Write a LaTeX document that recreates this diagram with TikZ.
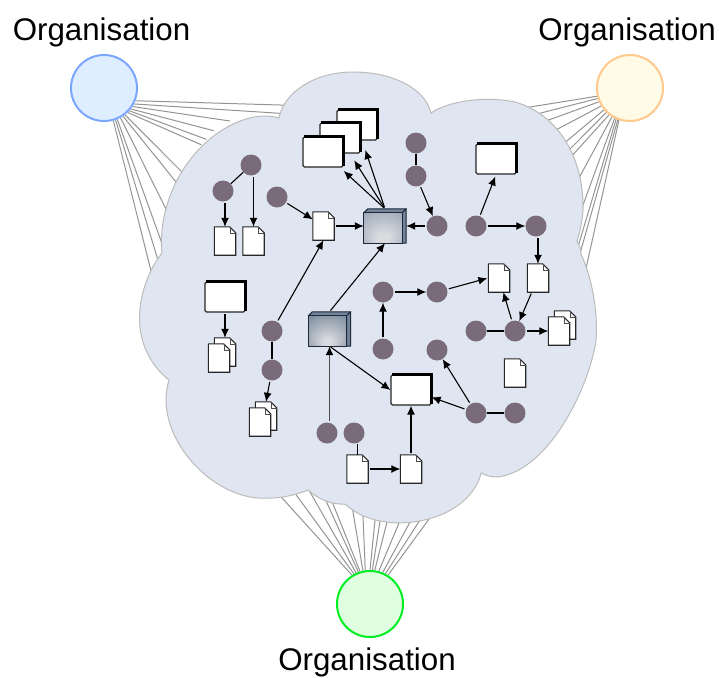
\documentclass[tikz,border=0pt]{standalone}
\usepackage{fontspec}
\setmainfont{Liberation Sans}
\usepackage{xcolor}
\usepackage{tikz}
\usetikzlibrary{arrows.meta,calc}

\definecolor{cloudfill}{HTML}{E0E6F1}
\definecolor{cloudline}{HTML}{BBBBBB}
\definecolor{memberfill}{HTML}{7A6B7B}
\definecolor{cubeside}{HTML}{71849B}
\definecolor{cubeedge}{HTML}{1E2836}
\definecolor{glowinner}{HTML}{D9DBDF}
\definecolor{glowouterA}{HTML}{8796AC}
\definecolor{glowouterB}{HTML}{5A7087}
\definecolor{orgAline}{HTML}{7AA6FF}
\definecolor{orgAfill}{HTML}{DFEEFF}
\definecolor{orgBline}{HTML}{FFC98C}
\definecolor{orgBfill}{HTML}{FFFBE6}
\definecolor{orgCline}{HTML}{00EE22}
\definecolor{orgCfill}{HTML}{E0FFE0}
\pgfdeclareradialshading{glowA}{\pgfpoint{0bp}{-20bp}}{color(0bp)=(glowinner); color(8bp)=(glowinner); color(50bp)=(glowouterA)}
\pgfdeclareradialshading{glowB}{\pgfpoint{0bp}{-20bp}}{color(0bp)=(glowinner); color(5bp)=(glowinner); color(50bp)=(glowouterB)}

\newcommand{\pagenode}[2]{
	\node [docbox] (#1) at (#2) {};
	\draw [pageline] (#1.north west) -- ($(#1.north east)+(-6,0)$) -- ($(#1.north east)+(0,6)$) -- (#1.south east) -- (#1.south west) -- cycle;
	\draw [foldline] ($(#1.north east)+(-6,0)$) -- ($(#1.north east)+(-6,6)$) -- ($(#1.north east)+(0,6)$);
}
\newcommand{\stacknode}[2]{
	\pagenode{#1b}{$(#2)+(6,-6)$}
	\pagenode{#1}{#2}
}
\newcommand{\winnode}[2]{
	\node [window] (#1) at (#2) {};
	\draw [windowedge] ($(#1.north west)+(1.5,0)$) -- (#1.north east) -- ($(#1.south east)+(0,-1.5)$);
}
\newcommand{\cubenode}[3]{
	\node [cubebox] (#1) at (#2) {};
	\draw [cubeface,fill=cubeside] ($(#1.north west)+(0,4)$) -- ($(#1.north west)+(4,0)$) -- (#1.north east) -- ($(#1.north east)+(-4,4)$) -- cycle;
	\draw [cubeface,fill=cubeside] (#1.north east) -- (#1.south east) -- ($(#1.south east)+(-4,0)$) -- ($(#1.north east)+(-4,4)$) -- cycle;
	\shade [shading=#3] ($(#1.north west)+(0,4)$) rectangle ($(#1.south east)+(-4,0)$);
	\draw [cubeface] ($(#1.north west)+(0,4)$) rectangle ($(#1.south east)+(-4,0)$);
}

\begin{document}
\begin{tikzpicture}[x=1pt,y=-1pt]
	\tikzstyle{org}=[circle,minimum size=66pt,inner sep=0pt,line width=2pt]
	\tikzstyle{org_text}=[font=\fontsize{31.3}{31.3}\selectfont,inner sep=0pt]
	\tikzstyle{link}=[draw=black!42,line width=1pt,shorten >=-7pt]
	\tikzstyle{member}=[circle,fill=memberfill,minimum size=21pt,inner sep=0pt]
	\tikzstyle{docbox}=[minimum width=21pt,minimum height=28pt,inner sep=0pt]
	\tikzstyle{pageline}=[draw=black!85,fill=white,line width=1.1pt]
	\tikzstyle{foldline}=[draw=black!70,line width=0.4pt]
	\tikzstyle{window}=[draw=black!85,fill=white,rounded corners=1.5pt,line width=1.2pt,minimum width=40pt,minimum height=30pt,inner sep=0pt]
	\tikzstyle{windowedge}=[draw=black,line width=2.6pt]
	\tikzstyle{cubebox}=[minimum width=42pt,minimum height=34pt,inner sep=0pt]
	\tikzstyle{cubeface}=[draw=cubeedge,line width=1pt,line join=round]
	\tikzstyle{flow}=[-{Latex[length=9pt,width=8pt,color=black]},draw=black,line width=1.1pt,shorten <=1.5pt]
	\tikzstyle{tie}=[draw=black,line width=1.1pt]

	\useasboundingbox (0,0) rectangle (719,677);

	\node (orgA) [org,draw=white] at (104,88) {};
	\node (orgB) [org,draw=white] at (630,88) {};
	\node (orgC) [org,draw=white] at (370,604) {};

	\foreach \ang/\x/\y in {-22/280/105,-28/275/113,-33/223/120,-38/207/129,-42/200/137,-46/195/142,-52/177/167,-56/172/177,-61/164/205,-67/160/238,-70/157/257,-74/150/267}
		\draw [link] (orgA.\ang) -- (\x,\y);
	\foreach \ang/\x/\y in {194/530/107,198/533/115,204/543/122,212/552/132,220/562/145,226/567/152,232/570/158,238/579/178,243/583/205,246/580/240,249/581/250,251/585/273}
		\draw [link] (orgB.\ang) -- (\x,\y);
	\foreach \ang/\x/\y in {122/283/499,118/297/496,114/310/492,110/327/503,107/333/504,102/353/512,98/363/517,90/375/520,86/380/521,82/387/522,75/399/523,68/410/522,63/420/520,58/429/519}
		\draw [link] (orgC.\ang) -- (\x,\y);

	\draw [draw=cloudline,fill=cloudfill,line width=1pt]
		(279,118) .. controls (284,92) and (315,72) .. (353,72)
		.. controls (392,72) and (425,88) .. (431,113)
		.. controls (445,103) and (480,95) .. (515,102)
		.. controls (560,115) and (584,160) .. (583,210)
		.. controls (582,222) and (580,232) .. (577,241)
		.. controls (580,246) and (581,250) .. (581,254)
		.. controls (593,280) and (598,315) .. (596,340)
		.. controls (590,385) and (550,470) .. (498,477)
		.. controls (490,477) and (485,475) .. (481,473)
		.. controls (478,490) and (455,522) .. (398,523)
		.. controls (375,522) and (358,516) .. (345,504)
		.. controls (332,505) and (318,499) .. (308,490)
		.. controls (290,497) and (275,499) .. (258,498)
		.. controls (215,495) and (168,450) .. (166,402)
		.. controls (166,394) and (167,387) .. (169,380)
		.. controls (150,365) and (139,342) .. (139.5,317)
		.. controls (140,292) and (150,268) .. (162,253)
		.. controls (158,215) and (175,165) .. (215,135)
		.. controls (235,120) and (260,112) .. (279,118) -- cycle;

	\node (orgA_fill) [org,draw=orgAline,fill=orgAfill] at (104,88) {};
	\node (orgB_fill) [org,draw=orgBline,fill=orgBfill] at (630,88) {};
	\node (orgC_fill) [org,draw=orgCline,fill=orgCfill] at (370,604) {};
	\node (orgA_text) [org_text] at (101.5,32) {Organisation};
	\node (orgB_text) [org_text] at (627,32) {Organisation};
	\node (orgC_text) [org_text] at (367,662) {Organisation};

	\node (a) [member] at (251,165) {};
	\node (b) [member] at (223,191) {};
	\node (c) [member] at (277,197) {};
	\node (d) [member] at (416,143) {};
	\node (e) [member] at (416,176) {};
	\node (f) [member] at (437,226) {};
	\node (g) [member] at (476,226) {};
	\node (h) [member] at (536,226) {};
	\node (i) [member] at (383,292) {};
	\node (j) [member] at (437,292) {};
	\node (k) [member] at (476,331) {};
	\node (l) [member] at (515,331) {};
	\node (m) [member] at (437,350) {};
	\node (n) [member] at (383,349) {};
	\node (o) [member] at (272,331) {};
	\node (p) [member] at (272,370) {};
	\node (q) [member] at (327,433) {};
	\node (r) [member] at (354,433) {};
	\node (s) [member] at (476,413) {};
	\node (t) [member] at (515,413) {};

	\pagenode{docA}{225,241}
	\pagenode{docB}{253.5,241}
	\pagenode{docC}{323.5,226}
	\pagenode{docD}{499,278}
	\pagenode{docE}{538,278}
	\pagenode{docF}{515,373}
	\pagenode{docG}{357.5,469}
	\pagenode{docH}{411,469}
	\stacknode{stackA}{219,358}
	\stacknode{stackB}{260,422}
	\stacknode{stackC}{559,331}

	\winnode{winA}{357,125}
	\winnode{winB}{340,138}
	\winnode{winC}{323,152}
	\winnode{winD}{496,159}
	\winnode{winE}{225,297}
	\winnode{winF}{411,390}

	\cubenode{cubeA}{385,226}{glowA}
	\cubenode{cubeB}{329.5,329}{glowB}

	\path [tie] (a) -- (b);
	\path [tie] (d) -- (e);
	\path [tie] (o) -- (p);
	\path [tie] (k) -- (l);
	\path [tie] (s) -- (t);
	\path [tie] (docG.north |- r.south) -- (docG.north);

	\path [flow] (docB.north |- a.south) -- (docB.north);
	\path [flow] (docA.north |- b.south) -- (docA.north);
	\path [flow] (c) -- (docC);
	\path [flow] (docC) -- (cubeA);
	\path [flow] (f) -- (cubeA);
	\path [flow] (e) -- (f);
	\path [flow,shorten >=5pt] (cubeA.north) -- (winC);
	\path [flow,shorten >=8pt] (cubeA.north) -- (winB);
	\path [flow,shorten >=10pt] (cubeA.north) -- (winA);
	\path [flow,shorten >=2pt] (g) -- (winD.south);
	\path [flow] (g) -- (h);
	\path [flow] (docE.north |- h.south) -- (docE.north);
	\path [flow,shorten >=1pt] (j) -- (docD.west);
	\path [flow] (i) -- (j);
	\path [flow] (i.south |- n.north) -- (i.south);
	\path [flow] (l) -- (docD);
	\path [flow] (docE) -- (l);
	\path [flow] (l) -- (stackC);
	\path [flow] (s) -- (m);
	\path [flow] (s) -- (winF);
	\path [flow] (cubeB.south) -- (winF.west);
	\path [flow,line width=1.4pt,draw=black!70] (cubeB.south |- q.north) -- (cubeB.south);
	\path [flow] (o) -- (docC.south);
	\path [flow] (cubeB.north) -- (cubeA.south);
	\path [flow] (p) -- (stackBb.north);
	\path [flow] (winE) -- (stackAb.north);
	\path [flow] (docG) -- (docH);
	\path [flow] (docH) -- (winF);
\end{tikzpicture}
\end{document}
